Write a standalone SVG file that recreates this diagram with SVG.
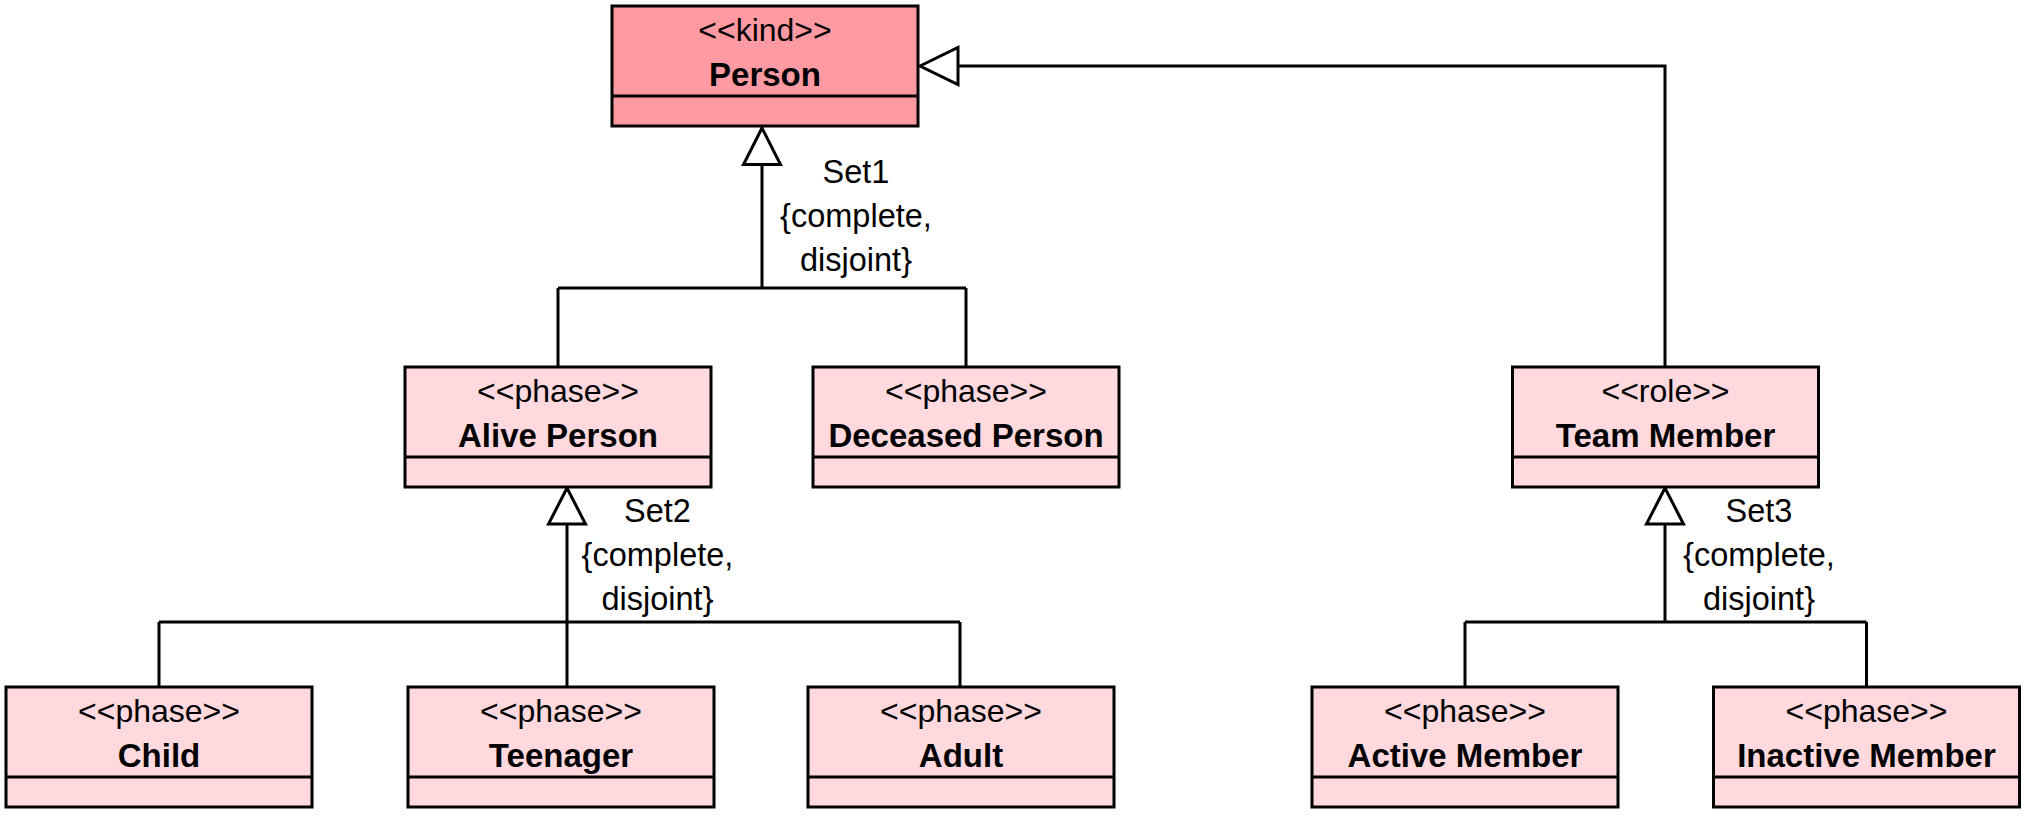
<svg xmlns="http://www.w3.org/2000/svg" width="2031" height="819" viewBox="0 0 2031 819">
<style>
.box{stroke:#000;stroke-width:3}
.kind{fill:#FF9AA3}
.phase{fill:#FFD9DD}
.div{stroke:#000;stroke-width:3}
.st{font-family:"Liberation Sans",Arial,sans-serif;font-size:32px;text-anchor:middle;fill:#000}
.nm{font-family:"Liberation Sans",Arial,sans-serif;font-size:33px;font-weight:bold;text-anchor:middle;fill:#000}
.lbl{font-family:"Liberation Sans",Arial,sans-serif;font-size:32.5px;text-anchor:middle;fill:#000}
.ln{fill:none;stroke:#000;stroke-width:3}
.tri{fill:#fff;stroke:#000;stroke-width:3;stroke-linejoin:miter}
</style>
<rect width="2031" height="819" fill="#fff"/>
<g id="connectors">
  <!-- Set1 -->
  <path class="ln" d="M762,164 V288 M558,288 H966 M558,288 V367 M966,288 V367"/>
  <polygon class="tri" points="762,128 743.5,164.5 780.5,164.5"/>
  <!-- Team Member to Person -->
  <path class="ln" d="M1665,367 V66 H958"/>
  <polygon class="tri" points="920,66 958,47.5 958,84.5"/>
  <!-- Set2 -->
  <path class="ln" d="M567,524 V622 M159,622 H960 M159,622 V687 M567,622 V687 M960,622 V687"/>
  <polygon class="tri" points="567,488 548.5,524 585.5,524"/>
  <!-- Set3 -->
  <path class="ln" d="M1665,524 V622 M1465,622 H1866.5 M1465,622 V687 M1866.5,622 V687"/>
  <polygon class="tri" points="1665,488 1646.5,524 1683.5,524"/>
  <text class="lbl" x="856" y="183">Set1</text>
  <text class="lbl" x="856" y="227">{complete,</text>
  <text class="lbl" x="856" y="271">disjoint}</text>
  <text class="lbl" x="657.5" y="522">Set2</text>
  <text class="lbl" x="657.5" y="566">{complete,</text>
  <text class="lbl" x="657.5" y="610">disjoint}</text>
  <text class="lbl" x="1759" y="522">Set3</text>
  <text class="lbl" x="1759" y="566">{complete,</text>
  <text class="lbl" x="1759" y="610">disjoint}</text>
</g>
<g id="person">
  <rect class="box kind" x="612" y="6" width="306" height="120"/>
  <line class="div" x1="612" y1="96" x2="918" y2="96"/>
  <text class="st" x="765" y="41">&lt;&lt;kind&gt;&gt;</text>
  <text class="nm" x="765" y="86">Person</text>
</g>
<g id="alive-person">
  <rect class="box phase" x="405" y="367" width="306" height="120"/>
  <line class="div" x1="405" y1="457" x2="711" y2="457"/>
  <text class="st" x="558" y="402">&lt;&lt;phase&gt;&gt;</text>
  <text class="nm" x="558" y="447">Alive Person</text>
</g>
<g id="deceased-person">
  <rect class="box phase" x="813" y="367" width="306" height="120"/>
  <line class="div" x1="813" y1="457" x2="1119" y2="457"/>
  <text class="st" x="966" y="402">&lt;&lt;phase&gt;&gt;</text>
  <text class="nm" x="966" y="447">Deceased Person</text>
</g>
<g id="team-member">
  <rect class="box phase" x="1512.5" y="367" width="306" height="120"/>
  <line class="div" x1="1512.5" y1="457" x2="1818.5" y2="457"/>
  <text class="st" x="1665.5" y="402">&lt;&lt;role&gt;&gt;</text>
  <text class="nm" x="1665.5" y="447">Team Member</text>
</g>
<g id="child">
  <rect class="box phase" x="6" y="687" width="306" height="120"/>
  <line class="div" x1="6" y1="777" x2="312" y2="777"/>
  <text class="st" x="159" y="722">&lt;&lt;phase&gt;&gt;</text>
  <text class="nm" x="159" y="767">Child</text>
</g>
<g id="teenager">
  <rect class="box phase" x="408" y="687" width="306" height="120"/>
  <line class="div" x1="408" y1="777" x2="714" y2="777"/>
  <text class="st" x="561" y="722">&lt;&lt;phase&gt;&gt;</text>
  <text class="nm" x="561" y="767">Teenager</text>
</g>
<g id="adult">
  <rect class="box phase" x="808" y="687" width="306" height="120"/>
  <line class="div" x1="808" y1="777" x2="1114" y2="777"/>
  <text class="st" x="961" y="722">&lt;&lt;phase&gt;&gt;</text>
  <text class="nm" x="961" y="767">Adult</text>
</g>
<g id="active-member">
  <rect class="box phase" x="1312" y="687" width="306" height="120"/>
  <line class="div" x1="1312" y1="777" x2="1618" y2="777"/>
  <text class="st" x="1465" y="722">&lt;&lt;phase&gt;&gt;</text>
  <text class="nm" x="1465" y="767">Active Member</text>
</g>
<g id="inactive-member">
  <rect class="box phase" x="1713.5" y="687" width="306" height="120"/>
  <line class="div" x1="1713.5" y1="777" x2="2019.5" y2="777"/>
  <text class="st" x="1866.5" y="722">&lt;&lt;phase&gt;&gt;</text>
  <text class="nm" x="1866.5" y="767">Inactive Member</text>
</g>
</svg>
